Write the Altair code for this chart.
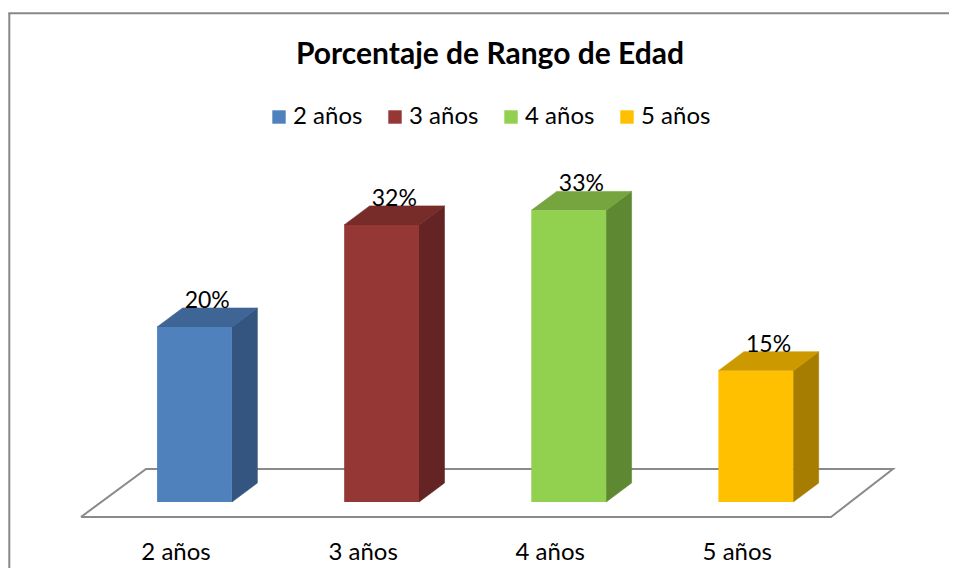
import altair as alt
import pandas as pd

# ---------------- data ----------------
categories = ["2 años", "3 años", "4 años", "5 años"]
percentages = [20.0, 31.67, 33.33, 15.0]
value_labels = ["20%", "32%", "33%", "15%"]

# ---------------- styles ----------------
front_colors = ["#4F81BD", "#953735", "#92D050", "#FFC000"]
top_colors = ["#3E6595", "#772C2A", "#76A53F", "#CC9A00"]
side_colors = ["#34557F", "#632423", "#5F8833", "#A67D00"]
FONT = "Lato"

# 3-D geometry (in scale units)
HALF = 0.2   # half of bar width (category units)
DX = 0.136   # depth along x
DY = 2.17    # depth along y (percentage units)
FLOOR_FRONT, FLOOR_BACK = -1.714, 3.771
FLOOR_X = [(-0.607, FLOOR_FRONT), (3.402, FLOOR_FRONT), (3.733, FLOOR_BACK),
           (-0.259, FLOOR_BACK), (-0.607, FLOOR_FRONT)]

idx = list(range(len(categories)))

front = pd.DataFrame({"cat": categories, "i": idx, "v": percentages})
front["x0"] = front["i"] - HALF
front["x1"] = front["i"] + HALF

side_rows, top_rows = [], []
for c, i, v, sc, tc in zip(categories, idx, percentages, side_colors, top_colors):
    side_rows.append({"cat": c, "x": i + HALF, "top": v, "bot": 0.0, "col": sc})
    side_rows.append({"cat": c, "x": i + HALF + DX, "top": v + DY, "bot": DY, "col": sc})
    top_rows.append({"cat": c, "y": v, "xl": i - HALF, "xr": i + HALF, "col": tc})
    top_rows.append({"cat": c, "y": v + DY, "xl": i - HALF + DX, "xr": i + HALF + DX, "col": tc})
side = pd.DataFrame(side_rows)
topf = pd.DataFrame(top_rows)

labels = pd.DataFrame({"x": [i + DX / 2 for i in idx],
                       "y": [v + DY for v in percentages],
                       "t": value_labels})

floor = pd.DataFrame({"x": [p[0] for p in FLOOR_X], "y": [p[1] for p in FLOOR_X],
                      "o": list(range(len(FLOOR_X)))})

# ---------------- scales / axes ----------------
xscale = alt.Scale(domain=[0, 3], range=[186.5, 747.8], nice=False, zero=False)
yscale = alt.Scale(domain=[0, 40], range=[494, 144], nice=False, zero=False)

label_expr = "[" + ",".join("'%s'" % c for c in categories) + "][datum.value]"
xaxis = alt.Axis(values=idx, labelExpr=label_expr, title=None, grid=False,
                 domain=False, ticks=False, tickSize=0, labelPadding=0,
                 labelBaseline="alphabetic", labelFont=FONT, labelFontSize=24,
                 labelColor="black", labelFlush=False, labelOverlap=False,
                 labelBound=False, labelOffset=-19, offset=-9, orient="bottom")

floor_layer = alt.Chart(floor).mark_line(color="#8a8a8a", strokeWidth=2).encode(
    x=alt.X("x:Q", scale=xscale, axis=xaxis),
    y=alt.Y("y:Q", scale=yscale, axis=None),
    order="o:Q",
)

side_layer = alt.Chart(side).mark_area(opacity=1, strokeWidth=0.6).encode(
    x=alt.X("x:Q", scale=xscale, axis=xaxis),
    y=alt.Y("top:Q", scale=yscale, axis=None),
    y2="bot:Q",
    detail="cat:N",
    fill=alt.Fill("col:N", scale=None),
    stroke=alt.Stroke("col:N", scale=None),
)

top_layer = alt.Chart(topf).mark_area(orient="horizontal", opacity=1, strokeWidth=0.6).encode(
    y=alt.Y("y:Q", scale=yscale, axis=None),
    x=alt.X("xl:Q", scale=xscale, axis=xaxis),
    x2="xr:Q",
    detail="cat:N",
    fill=alt.Fill("col:N", scale=None),
    stroke=alt.Stroke("col:N", scale=None),
)

front_layer = alt.Chart(front).mark_bar(opacity=1).encode(
    x=alt.X("x0:Q", scale=xscale, axis=xaxis),
    x2="x1:Q",
    y=alt.Y("v:Q", scale=yscale, axis=None),
    y2=alt.Y2(datum=0),
    color=alt.Color("cat:N", scale=alt.Scale(domain=categories, range=front_colors),
                    legend=alt.Legend(title=None, orient="none", legendX=259, legendY=97,
                                      direction="horizontal", columns=4,
                                      symbolType="square", symbolSize=180,
                                      symbolStrokeWidth=0, labelFont=FONT,
                                      labelFontSize=24, labelColor="black",
                                      labelOffset=2, columnPadding=20, padding=0)),
)

text_layer = alt.Chart(labels).mark_text(font=FONT, fontSize=23, color="black",
                                          baseline="alphabetic", align="center").encode(
    x=alt.X("x:Q", scale=xscale, axis=xaxis),
    y=alt.Y("y:Q", scale=yscale, axis=None),
    text="t:N",
)

frame = pd.DataFrame({"k": [0]})
left_border = alt.Chart(frame).mark_rule(color="#888888", strokeWidth=2).encode(
    x=alt.value(1.3), y=alt.value(5.3), y2=alt.value(560))
top_border = alt.Chart(frame).mark_rule(color="#888888", strokeWidth=2).encode(
    x=alt.value(0.3), x2=alt.value(941), y=alt.value(5.3))

chart = alt.layer(
    floor_layer, side_layer, top_layer, front_layer, text_layer, left_border, top_border
).resolve_scale(color="independent", fill="independent", stroke="independent").properties(
    width=941, height=560,
    autosize=alt.AutoSizeParams(type="none"),
    padding=0,
    title=alt.TitleParams("Porcentaje de Rango de Edad", font=FONT, fontSize=30,
                          fontWeight="bold", color="black", anchor="middle",
                          frame="group", baseline="alphabetic", offset=0, dy=86, dx=11.5),
    background="white",
).configure_view(stroke=None)

chart.save("out.html", embed_options={"renderer": "svg", "actions": False})
